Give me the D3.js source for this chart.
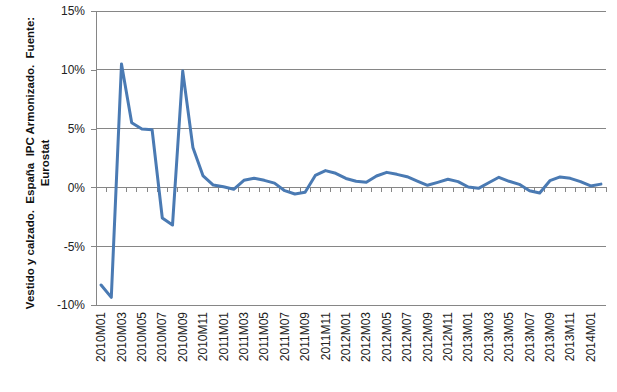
<!DOCTYPE html>
<html>
<head>
<meta charset="utf-8">
<script src="https://cdn.jsdelivr.net/npm/d3@7"></script>
<style>
  body { margin: 0; background: #fff; }
  svg { display: block; }
  text { font-family: "Liberation Sans", Arial, sans-serif; }
</style>
</head>
<body>
<svg id="chart" width="617" height="392"></svg>
<script>
const categories = [];
const years = [2010, 2011, 2012, 2013, 2014];
years.forEach(yr => { for (let m = 1; m <= 12; m++) { if (yr === 2014 && m > 2) break; categories.push(yr + "M" + String(m).padStart(2, "0")); } });

const values = [
  -8.3, -9.35, 10.5, 5.5, 4.97, 4.9, -2.6, -3.2, 9.9, 3.4, 0.97, 0.2,
  0.05, -0.16, 0.6, 0.77, 0.6, 0.36, -0.28, -0.56, -0.42, 1.02, 1.43, 1.2,
  0.76, 0.52, 0.43, 0.97, 1.28, 1.11, 0.91, 0.54, 0.18, 0.43, 0.69, 0.49,
  0.03, -0.08, 0.4, 0.86, 0.52, 0.26, -0.28, -0.48, 0.57, 0.89, 0.77, 0.49,
  0.12, 0.28
];
const yTicks = [-10, -5, 0, 5, 10, 15];
const titleLines = ["Vestido y calzado.  España  IPC Armonizado.  Fuente:", "Eurostat"];

const svg = d3.select("#chart");
const pLeft = 96, pRight = 606, pTop = 11, pBottom = 305;

const x = d3.scaleBand().domain(categories).range([pLeft, pRight]).paddingInner(0).paddingOuter(0);
const y = d3.scaleLinear().domain([-10, 15]).range([pBottom, pTop]);

// gridlines
svg.append("g").selectAll("line").data(yTicks.filter(t => t !== 0)).join("line")
  .attr("x1", pLeft).attr("x2", pRight)
  .attr("y1", d => y(d)).attr("y2", d => y(d))
  .attr("stroke", "#868686").attr("stroke-width", 1).attr("shape-rendering", "crispEdges");

// y axis
const yAxis = d3.axisLeft(y).tickValues(yTicks).tickSize(5).tickPadding(6).tickFormat(d => d + "%");
const gy = svg.append("g").attr("transform", `translate(${pLeft},0)`).call(yAxis);
gy.select(".domain").attr("stroke", "#868686").attr("d", `M-5,${pTop}H0V${pBottom}H-5`);
gy.selectAll(".tick line").attr("stroke", "#868686");
gy.selectAll(".tick text").attr("font-size", 12).attr("fill", "#222").attr("font-family", "Liberation Sans, Arial, sans-serif");
gy.attr("shape-rendering", "crispEdges");

// x axis at zero
const zeroY = y(0);
svg.append("line").attr("x1", pLeft).attr("x2", pRight).attr("y1", zeroY).attr("y2", zeroY)
  .attr("stroke", "#868686").attr("shape-rendering", "crispEdges");
const boundaries = categories.map(c => x(c)).concat([pRight]);
svg.append("g").selectAll("line").data(boundaries).join("line")
  .attr("x1", d => d).attr("x2", d => d).attr("y1", zeroY).attr("y2", zeroY + 5)
  .attr("stroke", "#868686").attr("shape-rendering", "crispEdges");

// x labels (every other category), rotated
svg.append("g").selectAll("text").data(categories.filter((c, i) => i % 2 === 0)).join("text")
  .attr("transform", d => `translate(${x(d) + x.bandwidth() / 2 + 4},${pBottom + 7}) rotate(-90)`)
  .attr("text-anchor", "end")
  .attr("font-size", 12).attr("fill", "#222")
  .text(d => d);

// line
const line = d3.line().x((d, i) => x(categories[i]) + x.bandwidth() / 2).y(d => y(d));
svg.append("path").datum(values).attr("d", line)
  .attr("fill", "none").attr("stroke", "#4a7ab3").attr("stroke-width", 3)
  .attr("stroke-linejoin", "round").attr("stroke-linecap", "round");

// y title
const tg = svg.append("g").attr("transform", `translate(0,${(pTop + pBottom) / 2 + 5}) rotate(-90)`);
tg.selectAll("text").data(titleLines).join("text")
  .attr("x", 0).attr("y", (d, i) => 34 + i * 15)
  .style("white-space", "pre")
  .attr("text-anchor", "middle").attr("font-weight", "bold").attr("font-size", 11.5).attr("fill", "#111")
  .text(d => d);
</script>
</body>
</html>
